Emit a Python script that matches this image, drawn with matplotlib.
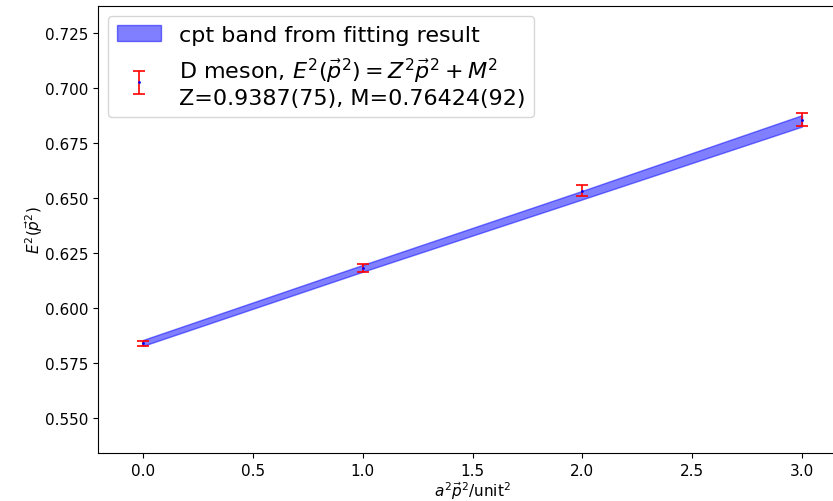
import numpy as np
import matplotlib
matplotlib.use('Agg')
import matplotlib.pyplot as plt

# measured points
p2 = [0, 1, 2, 3]
E2 = [0.5840, 0.6182, 0.6534, 0.6857]
E2_err = [0.0012, 0.0019, 0.0024, 0.0028]

# fit band (lower/upper edges)
band_x = [0, 1, 2, 3]
band_lo = [0.5828, 0.6165, 0.6494, 0.6825]
band_hi = [0.5855, 0.6196, 0.6533, 0.6877]

fig = plt.figure(figsize=(8.33, 5.02), dpi=100)
ax = fig.add_axes([0.1176, 0.0956, 0.898, 0.8904])

ax.fill_between(band_x, band_lo, band_hi, color='b', alpha=0.5,
                label='cpt band from fitting result')
ax.errorbar(p2, E2, yerr=E2_err, fmt='.', color='b', ms=2, ecolor='r',
            capsize=4, elinewidth=1.2, capthick=1.2,
            label='D meson, $E^2(\\vec{p}^2)=Z^2\\vec{p}^2+M^2$\nZ=0.9387(75), M=0.76424(92)')

ax.set_xlim(-0.205, 3.2)
ax.set_ylim(0.5341, 0.7373)
ax.set_yticks([0.550, 0.575, 0.600, 0.625, 0.650, 0.675, 0.700, 0.725])
ax.tick_params(labelsize=11)
ax.set_xlabel('$a^2\\vec{p}^2$/unit$^2$', fontsize=11, labelpad=1)
ax.set_ylabel('$E^2(\\vec{p}^2)$', fontsize=11, labelpad=0)
ax.legend(loc='upper left', fontsize=16, borderaxespad=0.45)

fig.savefig('out.png', dpi=100)
